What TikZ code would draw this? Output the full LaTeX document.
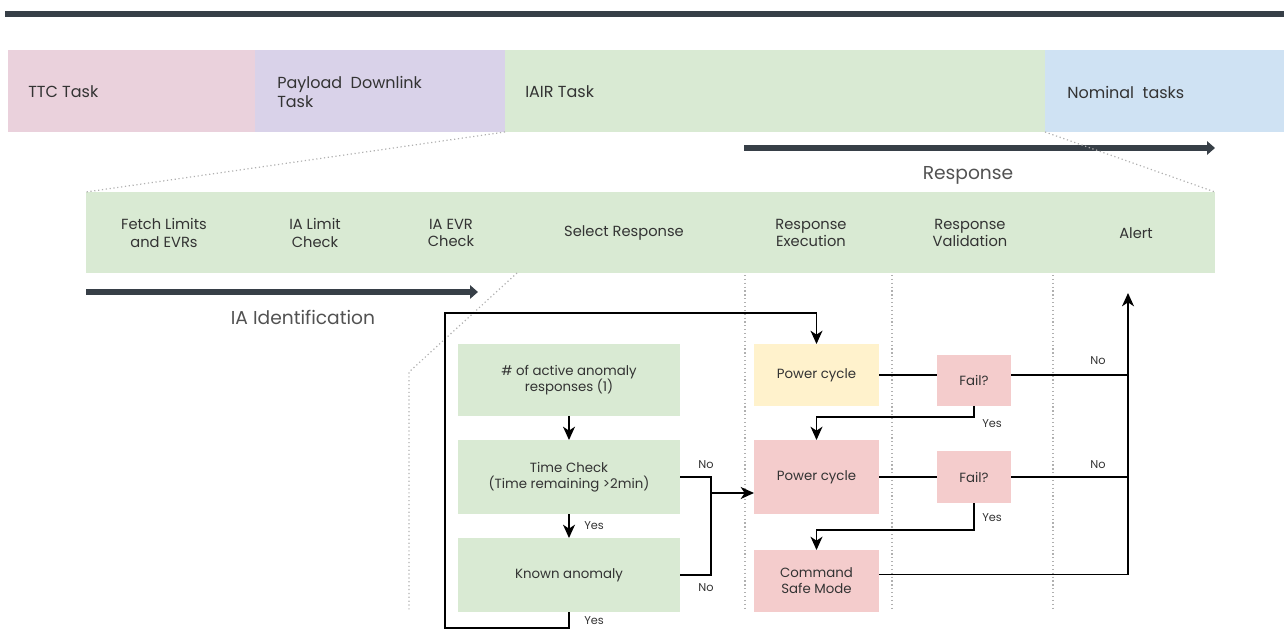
\documentclass[tikz,border=0pt]{standalone}
\usepackage{fontspec}
\setmainfont{Poppins}
\usetikzlibrary{arrows.meta,fit}

\definecolor{barc}{HTML}{373F47}
\definecolor{txt}{HTML}{333333}
\definecolor{ttcc}{HTML}{EAD1DC}
\definecolor{plc}{HTML}{D9D2E9}
\definecolor{grn}{HTML}{D9EAD3}
\definecolor{nomc}{HTML}{CFE2F3}
\definecolor{ylw}{HTML}{FFF2CC}
\definecolor{pnk}{HTML}{F4CCCC}
\definecolor{dotc}{HTML}{B0B0B0}

\tikzset{
  band/.style={inner sep=0pt, outer sep=0pt, draw=none},
  toplabel/.style={font=\fontsize{12}{14}\selectfont, text=txt, align=left, inner sep=0pt},
  steplabel/.style={font=\fontsize{11}{13}\selectfont, text=txt, align=center, inner sep=0pt},
  boxtext/.style={font=\fontsize{10}{12}\selectfont, text=txt, align=center},
  flowbox/.style={inner sep=0pt, outer sep=0pt, draw=none},
  tag/.style={font=\fontsize{8.5}{10}\selectfont, text=txt, inner sep=0pt},
  phase/.style={font=\fontsize{14}{16}\selectfont, text=txt!85, inner sep=0pt},
  bigarrow/.style={draw=barc, line width=4.5pt, -{Triangle[length=6pt, width=10pt]}},
  flow/.style={draw=black, line width=1.1pt, -{Stealth[length=10pt, width=9pt, inset=3pt]}},
  link/.style={draw=black, line width=1.1pt},
  zoomline/.style={draw=dotc, line width=0.9pt, dotted},
}

\begin{document}
\begin{tikzpicture}[x=0.75pt, y=-0.75pt]
\useasboundingbox (0,0) rectangle (1284,630);

% heading rule
\fill[barc] (5,11) rectangle (1284,17);

% task timeline
\node[band, fill=ttcc, fit={(8,50)(255,132)}] (ttc) {};
\node[band, fill=plc,  fit={(255,50)(505,132)}] (pl) {};
\node[band, fill=grn,  fit={(505,50)(1045,132)}] (iair) {};
\node[band, fill=nomc, fit={(1045,50)(1284,132)}] (nom) {};
\node[toplabel, anchor=west] (ttcT) at (28,92) {TTC Task};
\node[toplabel, anchor=west] (plT) at (277,92) {Payload\ \ Downlink\\Task};
\node[toplabel, anchor=west] (iairT) at (525,92) {IAIR Task};
\node[toplabel, anchor=west] (nomT) at (1067,92) {Nominal\ \ tasks};

% response phase arrow
\coordinate (respA) at (744,148);
\coordinate (respB) at (1215,148);
\draw[bigarrow] (respA) -- (respB);
\node[phase] (respL) at (968,175) {Response};

% IAIR steps band
\node[band, fill=grn, fit={(86,192)(1215,273)}] (steps) {};
\node[steplabel] (s1) at (164,233) {Fetch Limits\\and EVRs};
\node[steplabel] (s2) at (315,233) {IA Limit\\Check};
\node[steplabel] (s3) at (451,233) {IA EVR\\Check};
\node[steplabel] (s4) at (624,233) {Select Response};
\node[steplabel] (s5) at (811,233) {Response\\Execution};
\node[steplabel] (s6) at (970,233) {Response\\Validation};
\node[steplabel] (s7) at (1136,233) {Alert};

% zoom guides
\draw[zoomline] (iair.south west) -- (steps.north west);
\draw[zoomline] (nom.south west) -- (steps.north east);
\draw[zoomline] (517,273) -- (409,372) -- (409,610);
\draw[zoomline] (745,275) -- (745,610);
\draw[zoomline] (892,275) -- (892,610);
\draw[zoomline] (1053,275) -- (1053,610);

% identification phase arrow
\coordinate (idA) at (86,292);
\coordinate (idB) at (478,292);
\draw[bigarrow] (idA) -- (idB);
\node[phase] (idL) at (303,317) {IA Identification};

% response selection
\node[flowbox, fill=grn, fit={(458,344)(680,416)}] (b1) {};
\node[boxtext] at (b1.center) {\# of active anomaly\\responses (1)};
\node[flowbox, fill=grn, fit={(458,440)(680,514)}] (b2) {};
\node[boxtext] at (b2.center) {Time Check\\(Time remaining >2min)};
\node[flowbox, fill=grn, fit={(458,538)(680,612)}] (b3) {};
\node[boxtext] at (b3.center) {Known anomaly};

% execution and validation
\node[flowbox, fill=ylw, fit={(754,344)(879,406)}] (pc1) {};
\node[boxtext] at (pc1.center) {Power cycle};
\node[flowbox, fill=pnk, fit={(937,355)(1011,406)}] (f1) {};
\node[boxtext] at (f1.center) {Fail?};
\node[flowbox, fill=pnk, fit={(754,440)(879,514)}] (pc2) {};
\node[boxtext] at (pc2.center) {Power cycle};
\node[flowbox, fill=pnk, fit={(937,451)(1011,503)}] (f2) {};
\node[boxtext] at (f2.center) {Fail?};
\node[flowbox, fill=pnk, fit={(754,550)(879,612)}] (cmd) {};
\node[boxtext] at (cmd.center) {Command\\Safe Mode};

\coordinate (alertIn) at (1128,293);
\coordinate (noJoin) at (711,493);

% selection logic
\draw[flow] (b1.south) -- (b2.north);
\draw[flow] (b2.south) -- (b3.north);
\node[tag, anchor=west] at (584,526) {Yes};
\draw[flow] (b3.south) |- (445,628) -- (445,313) -| (pc1.north);
\node[tag, anchor=west] at (584,621) {Yes};
\draw[link] (b2.east) -| (noJoin) |- (b3.east);
\node[tag] at (706,465) {No};
\node[tag] at (706,588) {No};
\draw[flow] (noJoin) -- (pc2.west |- noJoin);

% execution / validation logic
\draw[link] (pc1.east) -- (pc1.east -| f1.west);
\draw[link] (pc1.east -| f1.east) -- (pc1.east -| alertIn);
\node[tag] at (1098,361) {No};
\draw[flow] (f1.south) -- ++(0,11) -| (pc2.north);
\node[tag, anchor=west] at (982,424) {Yes};
\draw[link] (pc2.east) -- (f2.west);
\draw[link] (f2.east) -- (f2.east -| alertIn);
\node[tag] at (1098,465) {No};
\draw[flow] (f2.south) -- ++(0,27) -| (cmd.north);
\node[tag, anchor=west] at (982,518) {Yes};
\draw[flow] ([yshift=5pt]cmd.east) -| (alertIn);

\end{tikzpicture}
\end{document}
